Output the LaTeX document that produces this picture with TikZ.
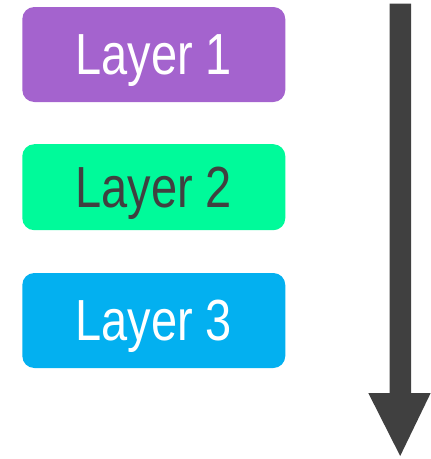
\documentclass[tikz,border=0pt]{standalone}
\usepackage{fontspec}
\setmainfont{Liberation Sans}
\usepackage{graphicx}
\definecolor{lpurple}{HTML}{A463CE}
\definecolor{lgreen}{HTML}{00FA9A}
\definecolor{lblue}{HTML}{03B0F0}
\definecolor{dgray}{HTML}{404040}
\begin{document}
\begin{tikzpicture}[x=1pt,y=-1pt,
  layerbox/.style={rounded corners=12pt, minimum width=263pt, minimum height=95pt, inner sep=0pt, text depth=0pt, font=\fontsize{58}{60}\selectfont},
  bigarrow/.style={fill=dgray}]
\useasboundingbox (0,0) rectangle (431,459);
\node[layerbox, fill=lpurple, text=white] (l1) at (153.8,54.5) {\scalebox{0.81}[1]{Layer 1}};
\node[layerbox, fill=lgreen, text=dgray, minimum height=86pt] (l2) at (153.8,187.2) {\scalebox{0.81}[1]{Layer 2}};
\node[layerbox, fill=lblue, text=white] (l3) at (153.8,320.5) {\scalebox{0.81}[1]{Layer 3}};
\fill[bigarrow] (389.5,3.5) -- (411,3.5) -- (411,393) -- (430.7,393) -- (400.2,456) -- (368.3,393) -- (389.5,393) -- cycle;
\end{tikzpicture}
\end{document}
